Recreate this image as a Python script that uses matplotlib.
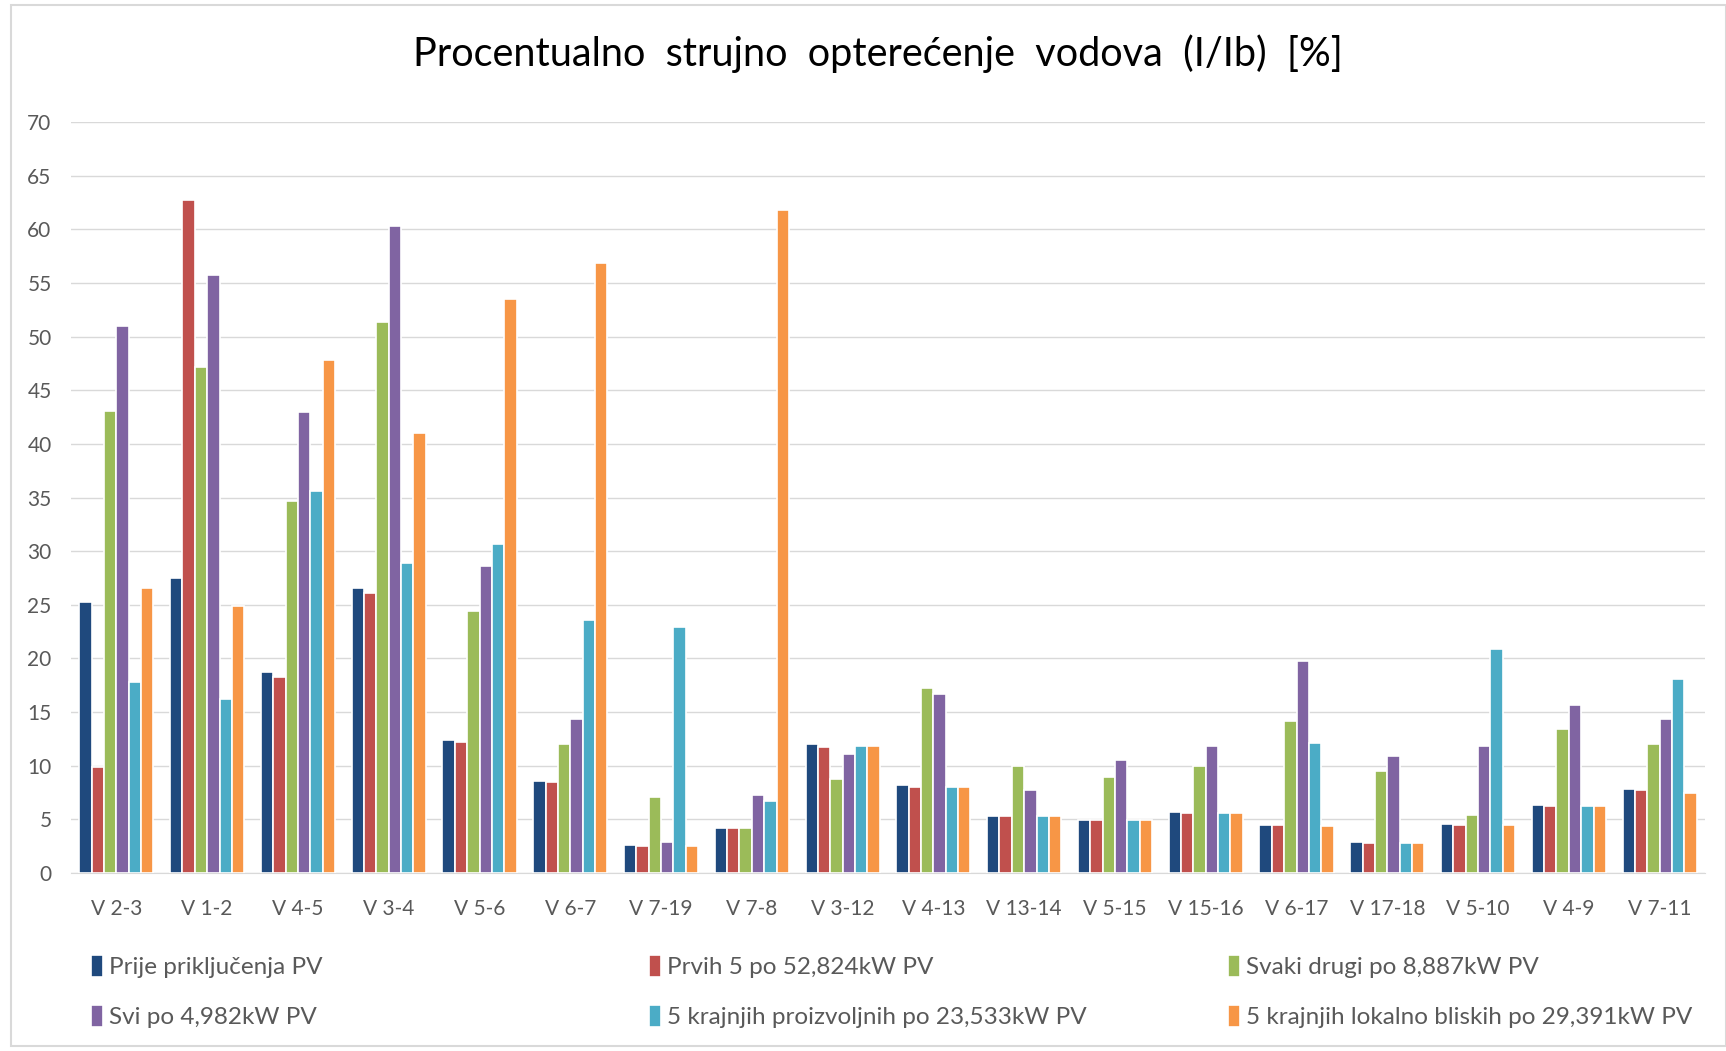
import numpy as np
import matplotlib.pyplot as plt
from matplotlib.patches import Rectangle

plt.rcParams['font.family'] = ['Lato', 'DejaVu Sans']

lines = ["V 2-3", "V 1-2", "V 4-5", "V 3-4", "V 5-6", "V 6-7", "V 7-19", "V 7-8",
         "V 3-12", "V 4-13", "V 13-14", "V 5-15", "V 15-16", "V 6-17", "V 17-18",
         "V 5-10", "V 4-9", "V 7-11"]

prije = [25.3, 27.5, 18.7, 26.6, 12.4, 8.6, 2.65, 4.2, 12.0, 8.2, 5.3, 4.95, 5.7, 4.5, 2.9, 4.6, 6.3, 7.8]
prvih5 = [9.9, 62.7, 18.3, 26.1, 12.2, 8.5, 2.55, 4.2, 11.7, 8.05, 5.3, 4.95, 5.55, 4.5, 2.8, 4.5, 6.2, 7.7]
svaki_drugi = [43.1, 47.2, 34.7, 51.4, 24.4, 12.0, 7.1, 4.2, 8.8, 17.2, 10.0, 8.95, 10.0, 14.2, 9.5, 5.4, 13.4, 12.0]
svi = [51.0, 55.7, 43.0, 60.3, 28.6, 14.4, 2.9, 7.3, 11.1, 16.7, 7.7, 10.55, 11.85, 19.8, 10.9, 11.85, 15.7, 14.35]
krajnjih_proizv = [17.8, 16.2, 35.6, 28.9, 30.7, 23.6, 22.9, 6.7, 11.85, 8.05, 5.3, 4.9, 5.55, 12.1, 2.8, 20.9, 6.2, 18.05]
krajnjih_lokal = [26.6, 24.9, 47.8, 41.0, 53.5, 56.9, 2.55, 61.8, 11.85, 8.05, 5.3, 4.9, 5.55, 4.35, 2.8, 4.5, 6.2, 7.5]

series = [prije, prvih5, svaki_drugi, svi, krajnjih_proizv, krajnjih_lokal]
labels = ["Prije priključenja PV", "Prvih 5 po 52,824kW PV", "Svaki drugi po 8,887kW PV",
          "Svi po 4,982kW PV", "5 krajnjih proizvoljnih po 23,533kW PV",
          "5 krajnjih lokalno bliskih po 29,391kW PV"]
colors = ["#1F497D", "#C0504D", "#9BBB59", "#8064A2", "#4BACC6", "#F79646"]

W, H = 1726, 1051
fig = plt.figure(figsize=(W / 100, H / 100), dpi=100)
ax = fig.add_axes([71 / W, 1 - 873 / H, (1705 - 71) / W, (873 - 122) / H])

x = np.arange(len(lines))
bw = 0.136
handles = []
for i, (vals, col) in enumerate(zip(series, colors)):
    b = ax.bar(x + (i - 2.5) * bw, vals, width=bw, color=col, edgecolor='white', linewidth=1.2, zorder=3)
    handles.append(b)

ax.set_xlim(-0.5, len(lines) - 0.5)
ax.set_ylim(0, 70)
ax.set_yticks(range(0, 71, 5))
ax.set_xticks(x)
ax.set_xticklabels(lines)
ax.tick_params(axis='y', length=0, pad=14, labelsize=15, labelcolor='#595959')
ax.tick_params(axis='x', length=0, pad=19, labelsize=15, labelcolor='#595959')
ax.grid(axis='y', color='#D9D9D9', linewidth=1, zorder=0)
for s in ['top', 'right', 'left']:
    ax.spines[s].set_visible(False)
ax.spines['bottom'].set_color('#D9D9D9')

fig.text(878 / W, 1 - 54 / H, "Procentualno  strujno  opterećenje  vodova  (I/Ib)  [%]",
         ha='center', va='center', fontsize=28.5, color='black')

# legend: 3 columns x 2 rows
col_x = [91, 649, 1228]
for c in range(3):
    hs = [handles[c], handles[c + 3]]
    ls = [labels[c], labels[c + 3]]
    fig.legend(hs, ls, loc='upper left', bbox_to_anchor=(col_x[c] / W, 1 - 955 / H),
               frameon=False, fontsize=17.5, handlelength=0.5, handleheight=1.0,
               handletextpad=0.25, labelspacing=1.1, labelcolor='#595959',
               borderaxespad=0, borderpad=0)

fig.patches.append(Rectangle((11 / W, 1 - 1046 / H), (W - 11) / W, (1046 - 5) / H,
                             transform=fig.transFigure, fill=False, edgecolor='#D9D9D9', linewidth=1.5))

fig.savefig("out.png", dpi=100)
